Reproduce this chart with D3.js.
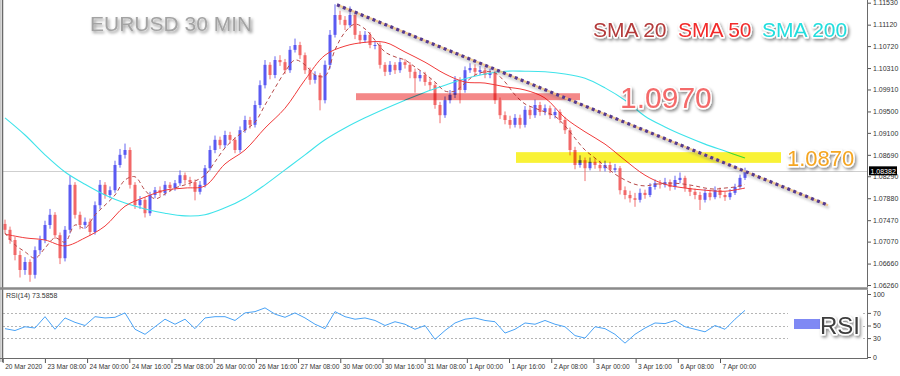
<!DOCTYPE html>
<html>
<head>
<meta charset="utf-8">
<script src="https://cdn.jsdelivr.net/npm/d3@7"></script>
<style>
	body { margin: 0; background: #fff; }
	svg { display: block; }
	.axis text { font-family: "Liberation Sans", Arial, sans-serif; font-size: 7px; fill: #333; }
	.axis line { stroke: #555; }
	.x-axis text { font-size: 6.6px; }
</style>
</head>
<body>
<div id="chart"></div>
<script>

// EURUSD 30 min - candles (one candle per ~hour)
const firstOpen = 1.0740;
const closes = [
	1.0729, 1.0710, 1.0682, 1.0654, 1.0669, 1.0645, 1.0691, 1.0710, 1.0738, 1.0757,
	1.0719, 1.0676, 1.0729, 1.0813, 1.0757, 1.0738, 1.0744, 1.0725, 1.0775, 1.0813,
	1.0794, 1.0803, 1.0850, 1.0869, 1.0878, 1.0813, 1.0775, 1.0785, 1.0760, 1.0794,
	1.0803, 1.0798, 1.0813, 1.0807, 1.0816, 1.0831, 1.0822, 1.0818, 1.0800, 1.0813,
	1.0844, 1.0878, 1.0897, 1.0887, 1.0906, 1.0897, 1.0878, 1.0915, 1.0934, 1.0925,
	1.0962, 1.0999, 1.1037, 1.1018, 1.1046, 1.1042, 1.1027, 1.1065, 1.1074, 1.1055,
	1.1027, 1.1009, 1.1018, 1.0971, 1.1037, 1.1093, 1.1130, 1.1121, 1.1111, 1.1130,
	1.1093, 1.1083, 1.1093, 1.1074, 1.1074, 1.1037, 1.1024, 1.1037, 1.1027, 1.1042,
	1.1037, 1.1024, 1.1012, 1.1018, 1.1005, 1.0999, 1.0962, 1.0943, 1.0971, 1.0981,
	1.1009, 1.0990, 1.1027, 1.1031, 1.1024, 1.1027, 1.1018, 1.1022, 1.0971, 1.0943,
	1.0934, 1.0925, 1.0938, 1.0925, 1.0953, 1.0943, 1.0962, 1.0949, 1.0956, 1.0943,
	1.0949, 1.0934, 1.0915, 1.0878, 1.0850, 1.0859, 1.0844, 1.0856, 1.0850, 1.0844,
	1.0850, 1.0841, 1.0844, 1.0803, 1.0794, 1.0788, 1.0785, 1.0798, 1.0794, 1.0809,
	1.0816, 1.0813, 1.0818, 1.0809, 1.0822, 1.0826, 1.0807, 1.0800, 1.0794, 1.0785,
	1.0798, 1.0790, 1.0803, 1.0794, 1.0790, 1.0798, 1.0809, 1.0826, 1.0838
];
const highs = [
	1.0748, 1.0735, 1.0716, 1.0690, 1.0678, 1.0674, 1.0698, 1.0718, 1.0746, 1.0768,
	1.0762, 1.0724, 1.0736, 1.0830, 1.0818, 1.0763, 1.0752, 1.0750, 1.0782, 1.0822,
	1.0818, 1.0810, 1.0858, 1.0880, 1.0890, 1.0883, 1.0818, 1.0792, 1.0790, 1.0800,
	1.0809, 1.0810, 1.0820, 1.0818, 1.0822, 1.0840, 1.0836, 1.0828, 1.0823, 1.0820,
	1.0850, 1.0886, 1.0905, 1.0903, 1.0914, 1.0912, 1.0902, 1.0922, 1.0942, 1.0940,
	1.0970, 1.1008, 1.1046, 1.1042, 1.1053, 1.1055, 1.1048, 1.1072, 1.1086, 1.1080,
	1.1060, 1.1032, 1.1025, 1.1022, 1.1045, 1.1102, 1.1150, 1.1138, 1.1128, 1.1146,
	1.1135, 1.1100, 1.1100, 1.1098, 1.1082, 1.1079, 1.1042, 1.1044, 1.1042, 1.1050,
	1.1048, 1.1042, 1.1030, 1.1026, 1.1024, 1.1012, 1.1004, 1.0968, 1.0978, 1.0990,
	1.1016, 1.1014, 1.1034, 1.1040, 1.1038, 1.1035, 1.1032, 1.1030, 1.1026, 1.0976,
	1.0950, 1.0942, 1.0945, 1.0944, 1.0960, 1.0958, 1.0972, 1.0968, 1.0963, 1.0961,
	1.0956, 1.0954, 1.0940, 1.0920, 1.0884, 1.0868, 1.0864, 1.0864, 1.0862, 1.0858,
	1.0858, 1.0856, 1.0852, 1.0848, 1.0810, 1.0802, 1.0798, 1.0806, 1.0804, 1.0816,
	1.0823, 1.0822, 1.0826, 1.0823, 1.0830, 1.0836, 1.0830, 1.0812, 1.0806, 1.0800,
	1.0805, 1.0804, 1.0810, 1.0808, 1.0800, 1.0805, 1.0815, 1.0832, 1.0845
];
const lows = [
	1.0722, 1.0703, 1.0672, 1.0640, 1.0645, 1.0632, 1.0638, 1.0684, 1.0704, 1.0731,
	1.0712, 1.0665, 1.0670, 1.0722, 1.0750, 1.0730, 1.0731, 1.0718, 1.0720, 1.0768,
	1.0787, 1.0788, 1.0798, 1.0845, 1.0862, 1.0806, 1.0768, 1.0768, 1.0752, 1.0755,
	1.0788, 1.0792, 1.0793, 1.0800, 1.0802, 1.0811, 1.0815, 1.0810, 1.0784, 1.0795,
	1.0808, 1.0840, 1.0872, 1.0880, 1.0882, 1.0890, 1.0872, 1.0873, 1.0910, 1.0918,
	1.0920, 1.0956, 1.0993, 1.1010, 1.1012, 1.1035, 1.1020, 1.1022, 1.1060, 1.1048,
	1.1020, 1.1000, 1.1002, 1.0952, 1.0965, 1.1030, 1.1088, 1.1112, 1.1102, 1.1106,
	1.1085, 1.1076, 1.1078, 1.1068, 1.1066, 1.1030, 1.1016, 1.1018, 1.1020, 1.1022,
	1.1030, 1.1012, 1.0985, 1.1006, 1.0998, 1.0990, 1.0955, 1.0928, 1.0938, 1.0965,
	1.0975, 1.0965, 1.0985, 1.1022, 1.1018, 1.1018, 1.1012, 1.1012, 1.0964, 1.0936,
	1.0926, 1.0918, 1.0920, 1.0918, 1.0920, 1.0936, 1.0938, 1.0942, 1.0943, 1.0936,
	1.0937, 1.0928, 1.0908, 1.0868, 1.0842, 1.0845, 1.0820, 1.0840, 1.0843, 1.0838,
	1.0838, 1.0835, 1.0836, 1.0795, 1.0786, 1.0780, 1.0772, 1.0780, 1.0787, 1.0790,
	1.0804, 1.0806, 1.0808, 1.0802, 1.0804, 1.0816, 1.0800, 1.0792, 1.0786, 1.0766,
	1.0780, 1.0784, 1.0786, 1.0788, 1.0783, 1.0785, 1.0794, 1.0805, 1.0822
];

// moving averages (SMA 20 every 2 candles, SMA 50 / 200 every 4 candles)
const sma20 = [
	1.0723, 1.0701, 1.0688, 1.0676, 1.0695, 1.0714, 1.0706, 1.0738, 1.0732, 1.0757,
	1.0775, 1.0794, 1.0822, 1.0828, 1.0803, 1.0787, 1.0796, 1.0807, 1.0813, 1.0820,
	1.0831, 1.0856, 1.0882, 1.0900, 1.0915, 1.0930, 1.0962, 1.0994, 1.1024, 1.1046,
	1.1037, 1.1018, 1.1016, 1.1065, 1.1098, 1.1113, 1.1104, 1.1083, 1.1061, 1.1052,
	1.1046, 1.1033, 1.1020, 1.1005, 1.0988, 1.0988, 1.1003, 1.1018, 1.1024, 1.1022,
	1.1005, 1.0981, 1.0964, 1.0956, 1.0949, 1.0941, 1.0923, 1.0900, 1.0878, 1.0863,
	1.0848, 1.0833, 1.0822, 1.0814, 1.0811, 1.0814, 1.0816, 1.0816, 1.0814, 1.0811,
	1.0807, 1.0805, 1.0807, 1.0809, 1.0814
];
const sma50 = [
	1.0721, 1.0714, 1.0710, 1.0699, 1.0714, 1.0736, 1.0773, 1.0790, 1.0803, 1.0807,
	1.0811, 1.0852, 1.0878, 1.0919, 1.0956, 1.1009, 1.1055, 1.1072, 1.1079, 1.1079,
	1.1061, 1.1042, 1.1020, 1.1005, 1.1003, 1.0996, 1.0990, 1.0975, 1.0938, 1.0912,
	1.0889, 1.0859, 1.0831, 1.0814, 1.0807, 1.0803, 1.0801, 1.0807
];
const sma200 = [
	1.0938, 1.0906, 1.0869, 1.0837, 1.0814, 1.0794, 1.0779, 1.0768, 1.0760, 1.0755,
	1.0757, 1.0770, 1.0788, 1.0813, 1.0841, 1.0869, 1.0897, 1.0919, 1.0938, 1.0955,
	1.0971, 1.0986, 1.0999, 1.1011, 1.1020, 1.1025, 1.1025, 1.1024, 1.1020, 1.1012,
	1.0994, 1.0971, 1.0941, 1.0921, 1.0904, 1.0889, 1.0876, 1.0863
];

// RSI(14), every 2 candles
const rsi = [
	45, 42, 48, 46, 64, 44, 62, 55, 50, 64,
	62, 63, 70, 44, 36, 48, 60, 52, 60, 45,
	62, 64, 64, 58, 70, 72, 78, 68, 63, 70,
	62, 52, 45, 72, 64, 60, 62, 58, 50, 56,
	52, 44, 50, 28, 42, 54, 60, 62, 58, 56,
	38, 44, 54, 52, 58, 52, 48, 34, 30, 48,
	45, 36, 22, 36, 46, 54, 53, 58, 48, 44,
	40, 50, 44, 60, 74
];

const priceTicks = [1.1153, 1.1112, 1.1072, 1.1031, 1.0991, 1.0950, 1.0910,
	1.0869, 1.0829, 1.0788, 1.0747, 1.0707, 1.0666, 1.0626];
const rsiTicks = [100, 70, 50, 30, 0];
const rsiLevels = [70, 50, 30];
const timeLabels = ["20 Mar 2020", "23 Mar 08:00", "24 Mar 00:00", "24 Mar 16:00",
	"25 Mar 08:00", "26 Mar 00:00", "26 Mar 16:00", "27 Mar 08:00", "30 Mar 00:00",
	"30 Mar 16:00", "31 Mar 08:00", "1 Apr 00:00", "1 Apr 16:00", "2 Apr 08:00",
	"3 Apr 00:00", "3 Apr 16:00", "6 Apr 08:00", "7 Apr 00:00"];
const barsPerLabel = 16; // 30 min bars between time labels

const lastPrice = 1.08382;
const rsiLast = 73.5858;

// drawn objects: trend line (candle index, price) and the two zones
const trendLine = [[66.4, 1.1149], [164.6, 1.0775]];
const zones = [
	{ label: "1.0970", from: 70.2, to: 115, top: 1.0984, bottom: 1.0971 },
	{ label: "1.0870", from: 102.2, to: 155.2, top: 1.0874, bottom: 1.0854 }
];


const W = 900, H = 376;
const plot = { left: 3, right: 867, top: 0, bottom: 287, rsiTop: 290, rsiBottom: 358 };

const svg = d3.select("#chart").append("svg")
	.attr("width", W)
	.attr("height", H);

const defs = svg.append("defs");
defs.append("filter")
	.attr("id", "shadow")
	.attr("x", "-20%").attr("y", "-40%")
	.attr("width", "140%").attr("height", "190%")
	.append("feDropShadow")
	.attr("dx", 1.5).attr("dy", 2)
	.attr("stdDeviation", 1.4)
	.attr("flood-color", "#000")
	.attr("flood-opacity", 0.45);
defs.append("filter")
	.attr("id", "blur")
	.append("feGaussianBlur")
	.attr("stdDeviation", 1.2);
defs.append("clipPath")
	.attr("id", "clipMain")
	.append("rect")
	.attr("x", plot.left).attr("y", plot.top)
	.attr("width", plot.right - plot.left).attr("height", plot.bottom - plot.top);

// scales
const x = d3.scaleLinear()
	.domain([0, closes.length - 1])
	.range([5, 745]);

const xTime = d3.scaleLinear()
	.domain([0, barsPerLabel * (timeLabels.length - 1)])
	.range([2.7, 720]);

const y = d3.scaleLinear()
	.domain([1.0626, 1.1153])
	.range([285, 2.7]);

const yR = d3.scaleLinear()
	.domain([0, 100])
	.range([357, 294]);

const main = svg.append("g").attr("clip-path", "url(#clipMain)");

// last price line
main.append("line")
	.attr("x1", plot.left).attr("x2", plot.right)
	.attr("y1", Math.round(y(lastPrice)) + 0.5).attr("y2", Math.round(y(lastPrice)) + 0.5)
	.attr("stroke", "#cfcfcf");

// candles
const candles = closes.map(function(c, i) {
	return { i: i, o: i ? closes[i - 1] : firstOpen, h: highs[i], l: lows[i], c: c };
});

const cg = main.append("g").selectAll("g")
	.data(candles)
	.enter()
	.append("g")
	.attr("class", "candle");

cg.append("line")
	.attr("x1", d => x(d.i)).attr("x2", d => x(d.i))
	.attr("y1", d => y(d.h)).attr("y2", d => y(d.l))
	.attr("stroke", d => d.c >= d.o ? "#6464f0" : "#f07070")
	.attr("stroke-width", 1);

cg.append("rect")
	.attr("x", d => x(d.i) - 1.5)
	.attr("y", d => y(Math.max(d.o, d.c)))
	.attr("width", 3)
	.attr("height", d => Math.max(1, Math.abs(y(d.o) - y(d.c))))
	.attr("fill", d => d.c >= d.o ? "#5a5af2" : "#f26868");

// moving averages
function maLine(data, step) {
	return d3.line()
		.x((d, k) => x(k * step))
		.y(d => y(d))
		.curve(d3.curveCatmullRom)(data);
}

main.append("path")
	.attr("d", maLine(sma200, 4))
	.attr("fill", "none")
	.attr("stroke", "#3fe3ea")
	.attr("stroke-width", 1.1);

main.append("path")
	.attr("d", maLine(sma50, 4))
	.attr("fill", "none")
	.attr("stroke", "#f03a3a")
	.attr("stroke-width", 1);

main.append("path")
	.attr("d", maLine(sma20, 2))
	.attr("fill", "none")
	.attr("stroke", "#b54848")
	.attr("stroke-width", 1)
	.attr("stroke-dasharray", "4,3");

// zones (multiply over the candles)
const zoneColors = ["#f48888", "#f9f236"];
main.selectAll(".zone")
	.data(zones)
	.enter()
	.append("rect")
	.attr("class", "zone")
	.attr("x", d => x(d.from))
	.attr("width", d => x(d.to) - x(d.from))
	.attr("y", d => y(d.top))
	.attr("height", d => y(d.bottom) - y(d.top))
	.attr("fill", (d, k) => zoneColors[k])
	.style("mix-blend-mode", "multiply");

// trend line
const tx1 = x(trendLine[0][0]), ty1 = y(trendLine[0][1]);
const tx2 = x(trendLine[1][0]), ty2 = y(trendLine[1][1]);
svg.append("line")
	.attr("x1", tx1 + 1).attr("y1", ty1 + 2.5).attr("x2", tx2 + 1).attr("y2", ty2 + 2.5)
	.attr("stroke", "#777").attr("stroke-width", 3).attr("opacity", 0.3)
	.attr("filter", "url(#blur)");
svg.append("line")
	.attr("x1", tx1).attr("y1", ty1).attr("x2", tx2).attr("y2", ty2)
	.attr("stroke", "#f2c27c").attr("stroke-width", 2.2).attr("opacity", 0.8);
svg.append("line")
	.attr("x1", tx1).attr("y1", ty1).attr("x2", tx2).attr("y2", ty2)
	.attr("stroke", "#553a90").attr("stroke-width", 3.2)
	.attr("stroke-dasharray", "3,3.4");

// RSI panel
svg.append("g").selectAll("line")
	.data(rsiLevels)
	.enter()
	.append("line")
	.attr("x1", plot.left).attr("x2", plot.right)
	.attr("y1", d => Math.round(yR(d)) + 0.5).attr("y2", d => Math.round(yR(d)) + 0.5)
	.attr("stroke", "#b5b5b5")
	.attr("stroke-dasharray", "2,2");

svg.append("path")
	.attr("d", d3.line().x((d, k) => x(k * 2)).y(d => yR(d))(rsi))
	.attr("fill", "none")
	.attr("stroke", "#4aa3f6")
	.attr("stroke-width", 1);

svg.append("text")
	.attr("x", 6).attr("y", 298)
	.style("font-family", "Liberation Sans, Arial, sans-serif")
	.style("font-size", "7px")
	.attr("fill", "#333")
	.text("RSI(14) " + rsiLast.toFixed(4));

// frame
const frame = svg.append("g").attr("stroke", "#6a6a6a");
frame.append("line").attr("x1", 0.5).attr("x2", 0.5).attr("y1", 0).attr("y2", 362).attr("stroke", "#c8c8c8");
frame.append("line").attr("x1", 2.5).attr("x2", 2.5).attr("y1", 0).attr("y2", 362).attr("stroke-width", 1.5);
frame.append("line").attr("x1", plot.right + 0.5).attr("x2", plot.right + 0.5).attr("y1", 0).attr("y2", plot.bottom);
frame.append("line").attr("x1", plot.right + 0.5).attr("x2", plot.right + 0.5).attr("y1", plot.rsiTop).attr("y2", plot.rsiBottom);
frame.append("line").attr("x1", 0).attr("x2", plot.right + 1).attr("y1", plot.bottom + 1.5).attr("y2", plot.bottom + 1.5).attr("stroke-width", 2.5).attr("stroke", "#8a8a8a");
frame.append("line").attr("x1", 0).attr("x2", plot.right + 1).attr("y1", plot.rsiBottom + 0.5).attr("y2", plot.rsiBottom + 0.5);

// axes
svg.append("g")
	.attr("class", "axis")
	.attr("transform", "translate(" + (plot.right + 1) + ",0)")
	.call(d3.axisRight(y).tickValues(priceTicks).tickFormat(d3.format(".5f")).tickSize(3).tickPadding(2))
	.call(g => g.select(".domain").remove());

svg.append("g")
	.attr("class", "axis")
	.attr("transform", "translate(" + (plot.right + 1) + ",0)")
	.call(d3.axisRight(yR).tickValues(rsiTicks).tickFormat(d3.format("d")).tickSize(3).tickPadding(2))
	.call(g => g.select(".domain").remove());

const xAxis = svg.append("g")
	.attr("class", "axis x-axis")
	.attr("transform", "translate(0," + (plot.rsiBottom + 1) + ")")
	.call(d3.axisBottom(xTime)
		.tickValues(timeLabels.map((d, k) => k * barsPerLabel))
		.tickFormat((d, k) => timeLabels[k])
		.tickSize(4));
xAxis.select(".domain").remove();
xAxis.selectAll("text")
	.attr("text-anchor", "start")
	.attr("x", 2)
	.attr("y", 5);

// last price tag
const lp = svg.append("g").attr("transform", "translate(" + (plot.right + 2) + "," + y(lastPrice) + ")");
lp.append("rect").attr("x", 0).attr("y", -5).attr("width", 28).attr("height", 9).attr("fill", "#000");
lp.append("text")
	.attr("x", 1.5).attr("y", 2.5)
	.style("font-family", "Liberation Sans, Arial, sans-serif")
	.style("font-size", "7px")
	.attr("fill", "#fff")
	.text(lastPrice.toFixed(5));

// captions
function caption(txt, px, py, size, color, outline) {
	const t = svg.append("text")
		.attr("x", px).attr("y", py)
		.style("font-family", "Liberation Sans, Arial, sans-serif")
		.style("font-size", size + "px")
		.attr("fill", color)
		.attr("filter", "url(#shadow)")
		.text(txt);
	if (outline) {
		t.attr("stroke", "#fff").attr("stroke-width", 3).attr("paint-order", "stroke").attr("stroke-linejoin", "round");
	}
	return t;
}

caption("EURUSD 30 MIN", 90, 31, 21, "#a3a3a3", false);
caption("SMA 20", 593, 37, 21, "#b33a3a", true);
caption("SMA 50", 678, 37, 21, "#f22c2c", true);
caption("SMA 200", 762, 37, 21, "#22dede", true);
caption(zones[0].label, 620, 108, 30, "#f46a6a", true);
caption(zones[1].label, 787, 166, 22, "#f5a623", true);

// RSI legend
svg.append("rect").attr("x", 788).attr("y", 302).attr("width", 74).attr("height", 42).attr("fill", "#fff");
svg.append("rect").attr("x", 794).attr("y", 319).attr("width", 26).attr("height", 10).attr("fill", "#7f89f4");
caption("RSI", 820, 334, 24, "#3d3d3d", true);

</script>
</body>
</html>
